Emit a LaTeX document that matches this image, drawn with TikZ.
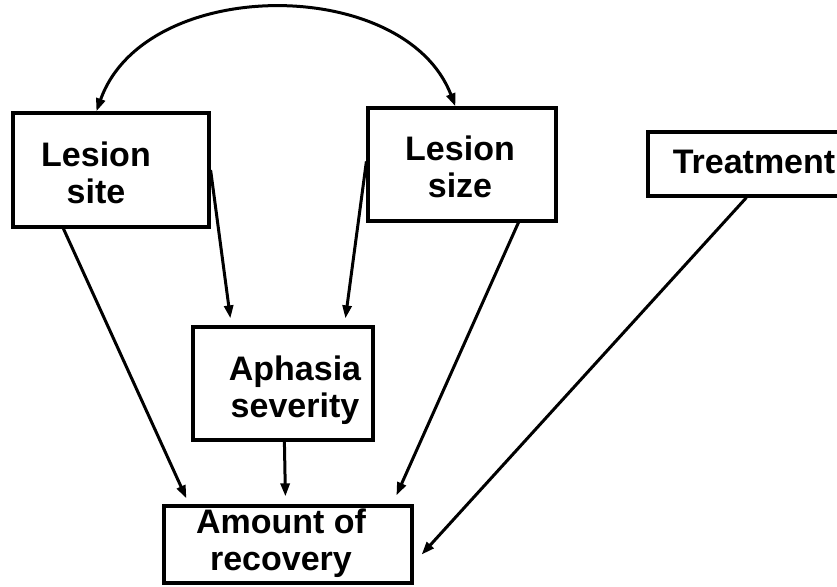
\documentclass[tikz,border=0pt]{standalone}
\usepackage{fontspec}
\setmainfont{Liberation Sans}
\usetikzlibrary{arrows.meta,calc}

\begin{document}
\begin{tikzpicture}[x=1pt,y=-1pt,
  box/.style={draw,line width=3.2pt,inner sep=0pt,minimum width=#1},
  lbl/.style={anchor=base,align=center,inner sep=0pt,
    font=\fontsize{34}{37}\selectfont\bfseries},
  link/.style={line width=3pt,-{Triangle[length=13pt,width=9pt]}},
  both/.style={line width=3pt,{Triangle[length=13pt,width=9pt]}-{Triangle[length=13pt,width=9pt]}}]
  \useasboundingbox (0,0) rectangle (837,586);
  \clip (0,0) rectangle (837,586);

  % boxes
  \node[box=196pt,minimum height=114pt] (site)  at (111,170)   {};
  \node[box=188pt,minimum height=113pt] (size)  at (462,164.5) {};
  \node[box=212pt,minimum height=64pt]  (treat) at (754,164)   {};
  \node[box=180pt,minimum height=113pt] (aph)   at (283,383.5) {};
  \node[box=248pt,minimum height=77pt]  (amt)   at (288,544.5) {};

  % labels (base = baseline of the last line)
  \node[lbl] (siteT)  at (96,203)  {Lesion\\site};
  \node[lbl] (sizeT)  at (460,197) {Lesion\\size};
  \node[lbl] (treatT) at (754,173) {Treatment};
  \node[lbl] (aphT)   at (295,417) {Aphasia\\severity};
  \node[lbl] (amtT)   at (281,570) {Amount of\\recovery};

  % correlation between the two lesion measures
  \draw[both] ($(site.north west)+(85,0)$)
     .. controls (145,-25) and (405,-25) .. ($(size.north west)+(89,0)$);

  % causal paths
  \draw[link] ($(site.south west)+(52,0)$) -- ($(amt.north west)+(24,-6)$);
  \draw[link] (site.east) -- ($(aph.north west)+(39,-7)$);
  \draw[link] ($(size.north west)+(0,55)$) -- ($(aph.north west)+(154,-7)$);
  \draw[link] ($(size.south west)+(152,0)$) -- ($(amt.north west)+(234,-9)$);
  \draw[link] ($(aph.south west)+(93,0)$) -- ($(amt.north west)+(123,-8)$);
  \draw[link] ($(treat.south west)+(100,0)$) -- ($(amt.south east)+(8,-30)$);
\end{tikzpicture}
\end{document}
